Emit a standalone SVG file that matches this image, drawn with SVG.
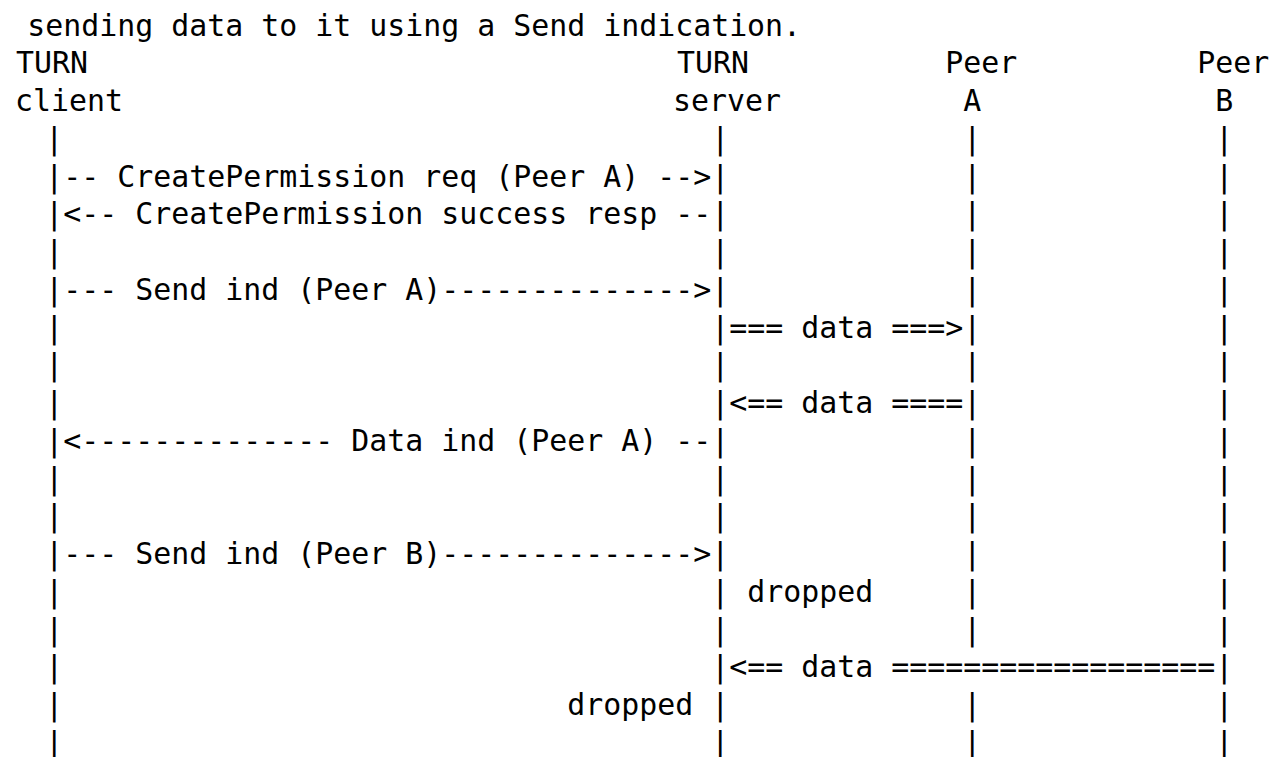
<svg xmlns="http://www.w3.org/2000/svg" width="1271" height="757" viewBox="0 0 1271 757">
<style>
text{font-family:"DejaVu Sans Mono","Liberation Mono",monospace;font-size:29.9px;fill:#000;white-space:pre}
</style>
<rect width="1271" height="757" fill="#fff"/>
<text x="27.3" y="35.5">sending data to it using a Send indication.</text>
<g id="turn-client"><text x="16" y="73.25">TURN</text><text x="15" y="111">client</text></g>
<g id="turn-server"><text x="677" y="73.25">TURN</text><text x="673" y="111">server</text></g>
<g id="peer-a"><text x="945.3" y="73.25">Peer</text><text x="963.3" y="111">A</text></g>
<g id="peer-b"><text x="1197.3" y="73.25">Peer</text><text x="1215.3" y="111">B</text></g>
<g id="connectors">
<g id="lifelines">
<text><tspan x="45.3" y="148.75">|</tspan><tspan x="45.3" y="186.5">|</tspan><tspan x="45.3" y="224.25">|</tspan><tspan x="45.3" y="262">|</tspan><tspan x="45.3" y="299.75">|</tspan><tspan x="45.3" y="337.5">|</tspan><tspan x="45.3" y="375.25">|</tspan><tspan x="45.3" y="413">|</tspan><tspan x="45.3" y="450.75">|</tspan><tspan x="45.3" y="488.5">|</tspan><tspan x="45.3" y="526.25">|</tspan><tspan x="45.3" y="564">|</tspan><tspan x="45.3" y="601.75">|</tspan><tspan x="45.3" y="639.5">|</tspan><tspan x="45.3" y="677.25">|</tspan><tspan x="45.3" y="715">|</tspan><tspan x="45.3" y="752.75">|</tspan></text>
<text><tspan x="711.3" y="148.75">|</tspan><tspan x="711.3" y="186.5">|</tspan><tspan x="711.3" y="224.25">|</tspan><tspan x="711.3" y="262">|</tspan><tspan x="711.3" y="299.75">|</tspan><tspan x="711.3" y="337.5">|</tspan><tspan x="711.3" y="375.25">|</tspan><tspan x="711.3" y="413">|</tspan><tspan x="711.3" y="450.75">|</tspan><tspan x="711.3" y="488.5">|</tspan><tspan x="711.3" y="526.25">|</tspan><tspan x="711.3" y="564">|</tspan><tspan x="711.3" y="601.75">|</tspan><tspan x="711.3" y="639.5">|</tspan><tspan x="711.3" y="677.25">|</tspan><tspan x="711.3" y="715">|</tspan><tspan x="711.3" y="752.75">|</tspan></text>
<text><tspan x="963.3" y="148.75">|</tspan><tspan x="963.3" y="186.5">|</tspan><tspan x="963.3" y="224.25">|</tspan><tspan x="963.3" y="262">|</tspan><tspan x="963.3" y="299.75">|</tspan><tspan x="963.3" y="337.5">|</tspan><tspan x="963.3" y="375.25">|</tspan><tspan x="963.3" y="413">|</tspan><tspan x="963.3" y="450.75">|</tspan><tspan x="963.3" y="488.5">|</tspan><tspan x="963.3" y="526.25">|</tspan><tspan x="963.3" y="564">|</tspan><tspan x="963.3" y="601.75">|</tspan><tspan x="963.3" y="639.5">|</tspan><tspan x="963.3" y="715">|</tspan><tspan x="963.3" y="752.75">|</tspan></text>
<text><tspan x="1215.3" y="148.75">|</tspan><tspan x="1215.3" y="186.5">|</tspan><tspan x="1215.3" y="224.25">|</tspan><tspan x="1215.3" y="262">|</tspan><tspan x="1215.3" y="299.75">|</tspan><tspan x="1215.3" y="337.5">|</tspan><tspan x="1215.3" y="375.25">|</tspan><tspan x="1215.3" y="413">|</tspan><tspan x="1215.3" y="450.75">|</tspan><tspan x="1215.3" y="488.5">|</tspan><tspan x="1215.3" y="526.25">|</tspan><tspan x="1215.3" y="564">|</tspan><tspan x="1215.3" y="601.75">|</tspan><tspan x="1215.3" y="639.5">|</tspan><tspan x="1215.3" y="677.25">|</tspan><tspan x="1215.3" y="715">|</tspan><tspan x="1215.3" y="752.75">|</tspan></text>
</g>
<g id="messages">
<text x="63.3" y="186.5">-- CreatePermission req (Peer A) --&gt;</text>
<text x="63.3" y="224.25">&lt;-- CreatePermission success resp --</text>
<text x="63.3" y="299.75">--- Send ind (Peer A)--------------&gt;</text>
<text x="729.3" y="337.5">=== data ===&gt;</text>
<text x="729.3" y="413">&lt;== data ====</text>
<text x="63.3" y="450.75">&lt;-------------- Data ind (Peer A) --</text>
<text x="63.3" y="564">--- Send ind (Peer B)--------------&gt;</text>
<text x="747.3" y="601.75">dropped</text>
<text x="729.3" y="677.25">&lt;== data ==================</text>
<text x="567.3" y="715">dropped</text>
</g>
</g>
</svg>
